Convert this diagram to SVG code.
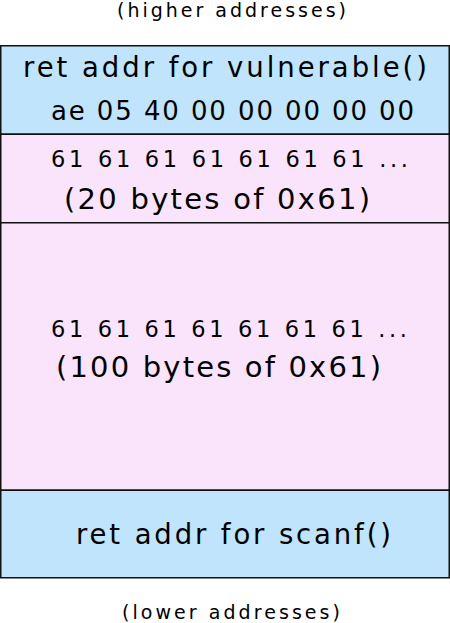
<svg xmlns="http://www.w3.org/2000/svg" width="450" height="623" viewBox="0 0 450 623">
<style>
text{font-family:"DejaVu Sans","Liberation Sans",sans-serif;fill:#000;}
.blue{fill:#c0e4fc;stroke:#111;stroke-width:1.5;}
.pink{fill:#f9e4fb;stroke:#111;stroke-width:1.5;}
</style>
<rect width="450" height="623" fill="#fff"/>
<text x="117" y="16.5" font-size="19" textLength="229" lengthAdjust="spacing">(higher addresses)</text>
<g id="ret-vulnerable">
<rect class="blue" x="0.75" y="45.75" width="448.5" height="88.5"/>
<text x="23" y="77" font-size="27.5" textLength="404" lengthAdjust="spacing">ret addr for vulnerable()</text>
<text x="51" y="120" font-size="26" textLength="363" lengthAdjust="spacing">ae 05 40 00 00 00 00 00</text>
</g>
<g id="buf20">
<rect class="pink" x="0.75" y="134.25" width="448.5" height="88.5"/>
<text x="51" y="167" font-size="22.5" textLength="357" lengthAdjust="spacing">61 61 61 61 61 61 61 ...</text>
<text x="64" y="209" font-size="29" textLength="306" lengthAdjust="spacing">(20 bytes of 0x61)</text>
</g>
<g id="buf100">
<rect class="pink" x="0.75" y="222.75" width="448.5" height="267.5"/>
<text x="51" y="337" font-size="22.5" textLength="356" lengthAdjust="spacing">61 61 61 61 61 61 61 ...</text>
<text x="56" y="377" font-size="29" textLength="325" lengthAdjust="spacing">(100 bytes of 0x61)</text>
</g>
<g id="ret-scanf">
<rect class="blue" x="0.75" y="490.25" width="448.5" height="87.5"/>
<text x="76" y="543.5" font-size="27.5" textLength="315" lengthAdjust="spacing">ret addr for scanf()</text>
</g>
<text x="122" y="618.5" font-size="19" textLength="218" lengthAdjust="spacing">(lower addresses)</text>
<g id="connectors"/>
</svg>
